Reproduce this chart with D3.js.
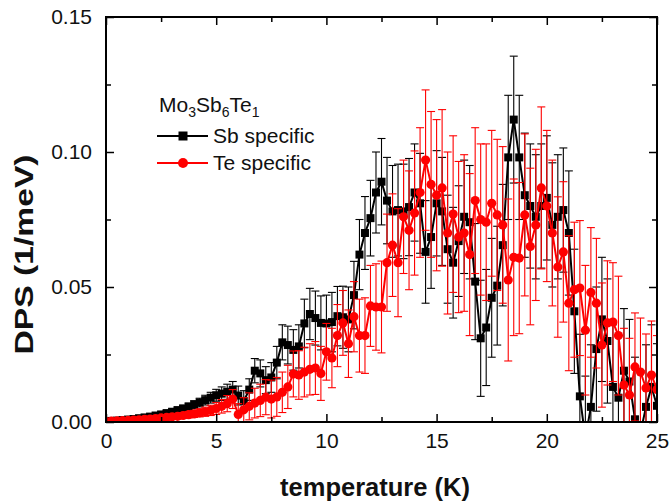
<!DOCTYPE html>
<html>
<head>
<meta charset="utf-8">
<script src="https://cdn.jsdelivr.net/npm/d3@7/dist/d3.min.js"></script>
<style>
  html, body { margin: 0; padding: 0; background: #fff; }
  svg { display: block; font-family: "Liberation Sans", Arial, sans-serif; }
</style>
</head>
<body>
<svg id="chart" width="670" height="501"></svg>
<script>
// ---------------- DATA ----------------
const temperature = [
  0.00,0.25,0.50,0.75,1.00,1.25,1.50,1.75,2.00,2.25,2.50,2.75,3.00,3.25,3.50,3.75,4.00,4.25,4.50,4.75,
  5.00,5.25,5.50,5.75,6.00,6.25,6.50,6.75,7.00,7.25,7.50,7.75,8.00,8.25,8.50,8.75,9.00,9.25,9.50,9.75,
  10.00,10.25,10.50,10.75,11.00,11.25,11.50,11.75,12.00,12.25,12.50,12.75,13.00,13.25,13.50,13.75,14.00,14.25,14.50,14.75,
  15.00,15.25,15.50,15.75,16.00,16.25,16.50,16.75,17.00,17.25,17.50,17.75,18.00,18.25,18.50,18.75,19.00,19.25,19.50,19.75,
  20.00,20.25,20.50,20.75,21.00,21.25,21.50,21.75,22.00,22.25,22.50,22.75,23.00,23.25,23.50,23.75,24.00,24.25,24.50,24.75,25.00
];

const sbValues = [
  0.0003,0.0004,0.0005,0.0007,0.0009,0.0011,0.0014,0.0017,0.0020,0.0024,0.0028,0.0033,0.0038,0.0044,0.0050,0.0057,0.0064,0.0072,0.0081,0.0090,
  0.0099,0.0105,0.0112,0.0120,0.0098,0.0078,0.0120,0.0190,0.0180,0.0155,0.0165,0.0220,0.0295,0.0285,0.0267,0.0280,0.0365,0.0400,0.0385,0.0367,
  0.0365,0.0370,0.0392,0.0388,0.0380,0.0470,0.0620,0.0700,0.0755,0.0850,0.0890,0.0820,0.0780,0.0785,0.0780,0.0796,0.0850,0.0810,0.0630,0.0685,
  0.0810,0.0780,0.0640,0.0590,0.0670,0.0760,0.0740,0.0520,0.0310,0.0350,0.0460,0.0505,0.0655,0.0980,0.1120,0.0980,0.0840,0.0800,0.0760,0.0800,
  0.0830,0.0730,0.0760,0.0785,0.0700,0.0410,0.0095,-0.0060,0.0056,0.0270,0.0380,0.0300,0.0130,0.0090,0.0190,0.0150,0.0010,-0.0040,0.0056,0.0130,0.0060
];
const sbErrors = [
  0.0002,0.0002,0.0003,0.0003,0.0004,0.0004,0.0005,0.0005,0.0006,0.0007,0.0008,0.0009,0.0010,0.0011,0.0012,0.0013,0.0015,0.0016,0.0018,0.0020,
  0.0022,0.0025,0.0028,0.0030,0.0035,0.0038,0.0040,0.0045,0.0050,0.0050,0.0055,0.0060,0.0065,0.0070,0.0075,0.0080,0.0090,0.0095,0.0100,0.0100,
  0.0105,0.0110,0.0110,0.0115,0.0120,0.0125,0.0130,0.0135,0.0140,0.0150,0.0160,0.0160,0.0170,0.0170,0.0175,0.0180,0.0180,0.0185,0.0190,0.0190,
  0.0195,0.0200,0.0200,0.0205,0.0205,0.0210,0.0210,0.0215,0.0215,0.0215,0.0220,0.0220,0.0225,0.0230,0.0235,0.0230,0.0230,0.0230,0.0230,0.0230,
  0.0230,0.0230,0.0230,0.0230,0.0230,0.0230,0.0230,0.0230,0.0230,0.0230,0.0230,0.0230,0.0230,0.0230,0.0230,0.0230,0.0230,0.0230,0.0230,0.0230,0.0230
];

const teValues = [
  0.0002,0.0003,0.0004,0.0005,0.0006,0.0007,0.0008,0.0010,0.0011,0.0013,0.0015,0.0017,0.0019,0.0021,0.0024,0.0027,0.0030,0.0034,0.0038,0.0043,
  0.0050,0.0058,0.0068,0.0085,0.0028,0.0045,0.0058,0.0070,0.0080,0.0092,0.0085,0.0093,0.0110,0.0130,0.0178,0.0174,0.0185,0.0195,0.0200,0.0180,
  0.0260,0.0237,0.0320,0.0367,0.0290,0.0390,0.0320,0.0320,0.0430,0.0426,0.0426,0.0590,0.0655,0.0590,0.0760,0.0710,0.0774,0.0850,0.0970,0.0880,
  0.0840,0.0867,0.0700,0.0770,0.0685,0.0700,0.0620,0.0820,0.0750,0.0740,0.0810,0.0767,0.0730,0.0526,0.0610,0.0607,0.0767,0.0650,0.0730,0.0867,
  0.0800,0.0700,0.0574,0.0630,0.0440,0.0490,0.0496,0.0340,0.0480,0.0440,0.0285,0.0367,0.0370,0.0320,0.0137,0.0100,0.0204,0.0185,0.0126,0.0174,0.0120
];
const teErrors = [
  0.0002,0.0002,0.0002,0.0003,0.0003,0.0004,0.0004,0.0005,0.0005,0.0006,0.0007,0.0008,0.0009,0.0010,0.0011,0.0012,0.0013,0.0015,0.0017,0.0019,
  0.0022,0.0025,0.0030,0.0035,0.0040,0.0045,0.0050,0.0055,0.0060,0.0065,0.0070,0.0072,0.0075,0.0080,0.0085,0.0090,0.0092,0.0095,0.0098,0.0100,
  0.0105,0.0110,0.0115,0.0120,0.0125,0.0130,0.0135,0.0140,0.0150,0.0160,0.0170,0.0180,0.0190,0.0200,0.0210,0.0220,0.0230,0.0240,0.0260,0.0270,
  0.0280,0.0290,0.0300,0.0290,0.0280,0.0290,0.0300,0.0270,0.0280,0.0290,0.0270,0.0280,0.0290,0.0300,0.0290,0.0280,0.0300,0.0290,0.0280,0.0300,
  0.0280,0.0270,0.0260,0.0260,0.0250,0.0250,0.0250,0.0240,0.0240,0.0240,0.0230,0.0230,0.0220,0.0220,0.0210,0.0210,0.0200,0.0200,0.0200,0.0200,0.0200
];

const xMajorTicks = [0, 5, 10, 15, 20, 25];
const xMinorTicks = [2.5, 7.5, 12.5, 17.5, 22.5];
const yMajorTicks = [0, 0.05, 0.10, 0.15];
const yMinorTicks = [0.025, 0.075, 0.125];

const seriesNames = ["Sb specific", "Te specific"];
const seriesColors = ["#000000", "#ff0000"];

// ---------------- CHART ----------------
(function () {
const svg = d3.select("#chart");
const pL = 106, pR = 657, pT = 17, pB = 422;

const x = d3.scaleLinear().domain([0, 25]).range([pL, pR]);
const y = d3.scaleLinear().domain([0, 0.15]).range([pB, pT]);

svg.append("defs").append("clipPath").attr("id", "plotclip")
  .append("rect").attr("x", pL).attr("y", pT).attr("width", pR - pL).attr("height", pB - pT);

const plot = svg.append("g").attr("clip-path", "url(#plotclip)");

function drawSeries(vals, errs, color, shape) {
  const data = temperature.map((t, i) => ({ t, v: vals[i], e: errs[i] }));
  const g = plot.append("g");
  const eb = g.append("g").attr("stroke", color).attr("stroke-width", 1.1).attr("fill", "none");
  data.forEach(d => {
    const x0 = x(d.t), y1 = y(d.v + d.e), y2 = y(d.v - d.e);
    eb.append("line").attr("x1", x0).attr("x2", x0).attr("y1", y1).attr("y2", y2);
    eb.append("line").attr("x1", x0 - 4).attr("x2", x0 + 4).attr("y1", y1).attr("y2", y1);
    eb.append("line").attr("x1", x0 - 4).attr("x2", x0 + 4).attr("y1", y2).attr("y2", y2);
  });
  g.append("path").datum(data)
    .attr("fill", "none").attr("stroke", color).attr("stroke-width", 2)
    .attr("d", d3.line().x(d => x(d.t)).y(d => y(d.v)));
  if (shape === "square") {
    g.selectAll("rect.m").data(data).enter().append("rect")
      .attr("x", d => x(d.t) - 4).attr("y", d => y(d.v) - 4)
      .attr("width", 8).attr("height", 8).attr("fill", color);
  } else {
    g.selectAll("circle.m").data(data).enter().append("circle")
      .attr("cx", d => x(d.t)).attr("cy", d => y(d.v)).attr("r", 4.6).attr("fill", color);
  }
}

drawSeries(sbValues, sbErrors, seriesColors[0], "square");
drawSeries(teValues, teErrors, seriesColors[1], "circle");

const axisStyle = g => {
  g.select(".domain").remove();
  g.selectAll(".tick line").attr("stroke", "#000").attr("stroke-width", 1.5);
};
const fontFam = '"Liberation Sans", Arial, sans-serif';
svg.append("g").attr("transform", `translate(0,${pB})`)
  .call(d3.axisBottom(x).tickValues(xMajorTicks).tickSize(-8).tickFormat(d3.format("d")))
  .call(axisStyle)
  .call(g => g.selectAll("text").attr("font-size", 21).attr("fill", "#111")
    .attr("font-family", fontFam).attr("y", 26).attr("dy", "0"));
svg.append("g").attr("transform", `translate(0,${pB})`)
  .call(d3.axisBottom(x).tickValues(xMinorTicks).tickSize(-5).tickFormat(""))
  .call(axisStyle);
svg.append("g").attr("transform", `translate(0,${pT})`)
  .call(d3.axisTop(x).tickValues(xMajorTicks).tickSize(-8).tickFormat(""))
  .call(axisStyle);
svg.append("g").attr("transform", `translate(0,${pT})`)
  .call(d3.axisTop(x).tickValues(xMinorTicks).tickSize(-5).tickFormat(""))
  .call(axisStyle);

svg.append("g").attr("transform", `translate(${pL},0)`)
  .call(d3.axisLeft(y).tickValues(yMajorTicks).tickSize(-8).tickPadding(14).tickFormat(d3.format(".2f")))
  .call(axisStyle)
  .call(g => g.selectAll("text").attr("font-size", 21).attr("fill", "#111").attr("font-family", fontFam));
svg.append("g").attr("transform", `translate(${pL},0)`)
  .call(d3.axisLeft(y).tickValues(yMinorTicks).tickSize(-5).tickFormat(""))
  .call(axisStyle);
svg.append("g").attr("transform", `translate(${pR},0)`)
  .call(d3.axisRight(y).tickValues(yMajorTicks).tickSize(-8).tickFormat(""))
  .call(axisStyle);
svg.append("g").attr("transform", `translate(${pR},0)`)
  .call(d3.axisRight(y).tickValues(yMinorTicks).tickSize(-5).tickFormat(""))
  .call(axisStyle);

svg.append("rect").attr("x", pL).attr("y", pT).attr("width", pR - pL).attr("height", pB - pT)
  .attr("fill", "none").attr("stroke", "#000").attr("stroke-width", 2);

svg.append("text").attr("x", 375).attr("y", 496)
  .attr("text-anchor", "middle").attr("font-size", 25).attr("font-weight", "bold").attr("fill", "#111")
  .attr("textLength", 190).attr("lengthAdjust", "spacingAndGlyphs")
  .text("temperature (K)");
svg.append("text").attr("transform", `translate(33,${(pT + pB) / 2 + 35}) rotate(-90)`)
  .attr("text-anchor", "middle").attr("font-size", 26).attr("font-weight", "bold").attr("fill", "#111")
  .attr("textLength", 200).attr("lengthAdjust", "spacingAndGlyphs")
  .text("DPS (1/meV)");

const leg = svg.append("g");
const title = leg.append("text").attr("x", 159).attr("y", 112).attr("font-size", 21).attr("fill", "#111");
title.append("tspan").text("Mo");
title.append("tspan").attr("font-size", 14).attr("dy", 5).text("3");
title.append("tspan").attr("dy", -5).text("Sb");
title.append("tspan").attr("font-size", 14).attr("dy", 5).text("6");
title.append("tspan").attr("dy", -5).text("Te");
title.append("tspan").attr("font-size", 14).attr("dy", 5).text("1");

const legY = [136, 163];
seriesNames.forEach((name, i) => {
  leg.append("line").attr("x1", 157).attr("x2", 208).attr("y1", legY[i]).attr("y2", legY[i])
    .attr("stroke", seriesColors[i]).attr("stroke-width", 1.8);
  if (i === 0) {
    leg.append("rect").attr("x", 183 - 4.5).attr("y", legY[i] - 4.5).attr("width", 9).attr("height", 9).attr("fill", seriesColors[i]);
  } else {
    leg.append("circle").attr("cx", 183).attr("cy", legY[i]).attr("r", 5).attr("fill", seriesColors[i]);
  }
  leg.append("text").attr("x", 213).attr("y", legY[i] + 7).attr("font-size", 21).attr("fill", "#111").text(name);
});
})();
</script>
</body>
</html>
